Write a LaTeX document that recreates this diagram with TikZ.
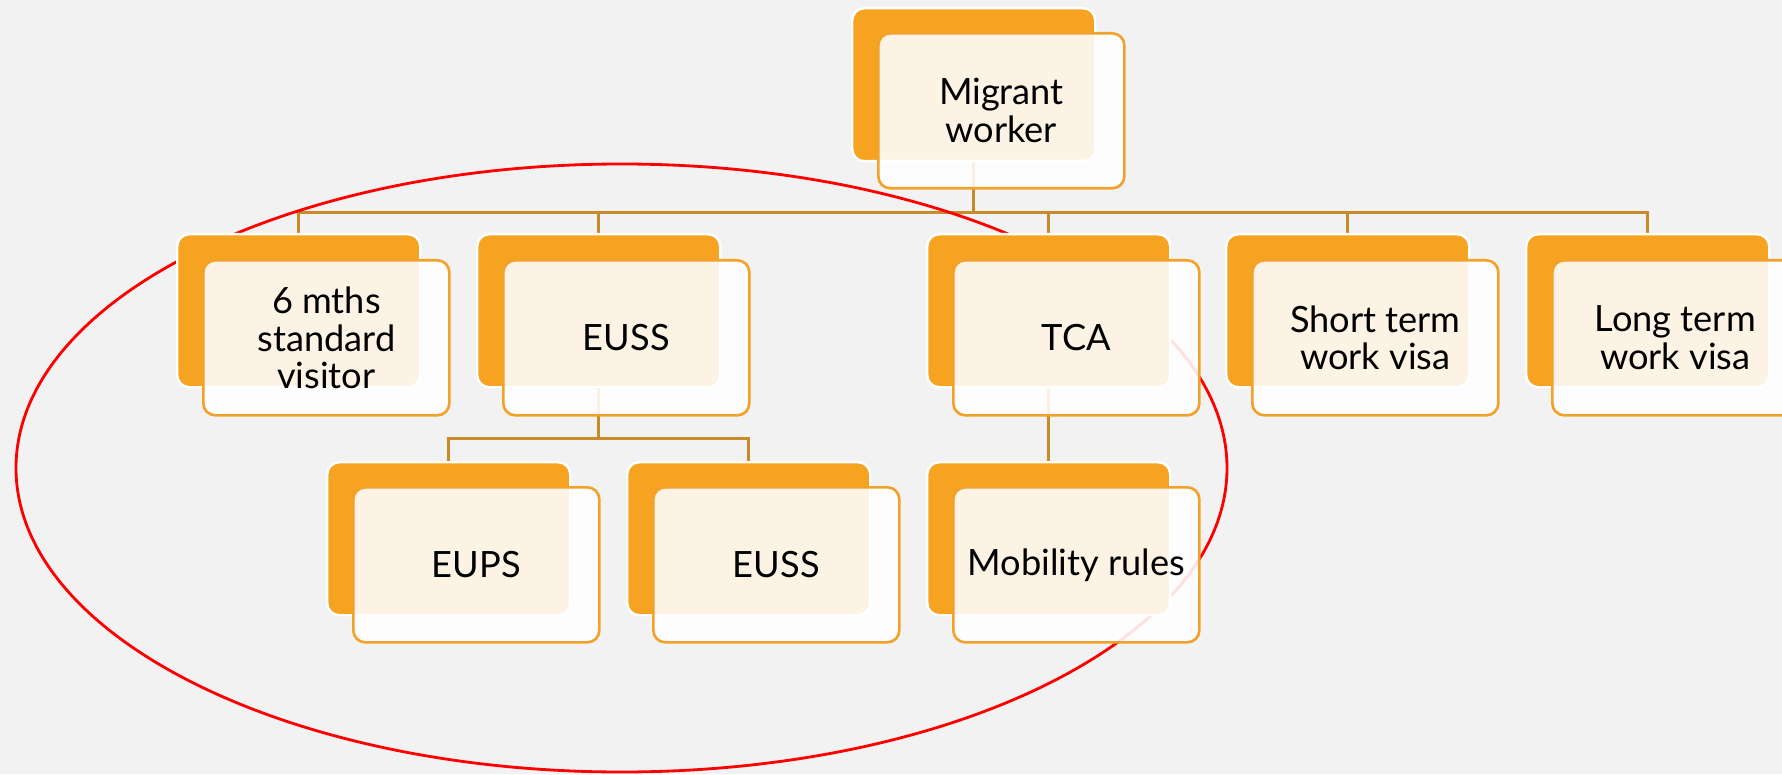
\documentclass[tikz,border=0pt]{standalone}
\usepackage{fontspec}
\setmainfont{Lato}
\usetikzlibrary{positioning}

\definecolor{bgray}{HTML}{F2F2F2}
\definecolor{orng}{HTML}{F5A321}
\definecolor{edge}{HTML}{F2A12A}
\definecolor{link}{HTML}{C98A2A}

\pgfdeclarelayer{back}
\pgfsetlayers{back,main}

\tikzset{
  card/.style={rectangle,rounded corners=0.12cm,anchor=north west,
    minimum width=2.43cm,minimum height=1.53cm,
    fill=orng,draw=white,line width=0.7pt},
  cardtext/.style={rectangle,rounded corners=0.12cm,anchor=north west,
    minimum width=2.46cm,minimum height=1.55cm,align=center,
    fill=white,fill opacity=0.88,text opacity=1,draw=edge,line width=0.75pt,
    font=\fontsize{10.3}{10.8}\selectfont},
  linkline/.style={draw=link,line width=0.8pt},
}

\begin{document}
\begin{tikzpicture}
\begin{pgfonlayer}{back}
  \fill[bgray] (0,0) rectangle (17.82,-7.74);
\end{pgfonlayer}
\useasboundingbox (0,0) rectangle (17.82,-7.74);

% back cards
\node [card] (mw) at (8.51,-0.07) {};
\node [card] (sv) at (1.76,-2.33) {};
\node [card] (euss) at (4.76,-2.33) {};
\node [card] (tca) at (9.26,-2.33) {};
\node [card] (stv) at (12.25,-2.33) {};
\node [card] (ltv) at (15.25,-2.33) {};
\node [card] (eups) at (3.26,-4.61) {};
\node [card] (euss2) at (6.26,-4.61) {};
\node [card] (mob) at (9.26,-4.61) {};

% front cards with text
\node [cardtext] (mw-t) at ([shift={(0.26,-0.25)}]mw.north west) {Migrant\\worker};
\node [cardtext] (sv-t) at ([shift={(0.26,-0.26)}]sv.north west) {6 mths\\standard\\visitor};
\node [cardtext] (euss-t) at ([shift={(0.26,-0.26)}]euss.north west) {EUSS};
\node [cardtext] (tca-t) at ([shift={(0.26,-0.26)}]tca.north west) {TCA};
\node [cardtext] (stv-t) at ([shift={(0.26,-0.26)}]stv.north west) {Short term\\work visa};
\node [cardtext] (ltv-t) at ([shift={(0.26,-0.26)}]ltv.north west) {Long term\\work visa};
\node [cardtext] (eups-t) at ([shift={(0.26,-0.25)}]eups.north west) {EUPS};
\node [cardtext] (euss2-t) at ([shift={(0.26,-0.25)}]euss2.north west) {EUSS};
\node [cardtext] (mob-t) at ([shift={(0.26,-0.25)}]mob.north west) {Mobility rules};

\begin{pgfonlayer}{back}
  \foreach \c in {sv,euss,tca,stv,ltv}
    \path [linkline] (mw.south) -- ++(0,-0.5) -| (\c.north);
  \foreach \c in {eups,euss2}
    \path [linkline] (euss.south) -- ++(0,-0.5) -| (\c.north);
  \path [linkline] (tca.south) -- (mob.north);
  % circled group
  \draw [red,line width=0.8pt] (6.215,-4.68) ellipse (6.055 and 3.04);
\end{pgfonlayer}
\end{tikzpicture}
\end{document}
